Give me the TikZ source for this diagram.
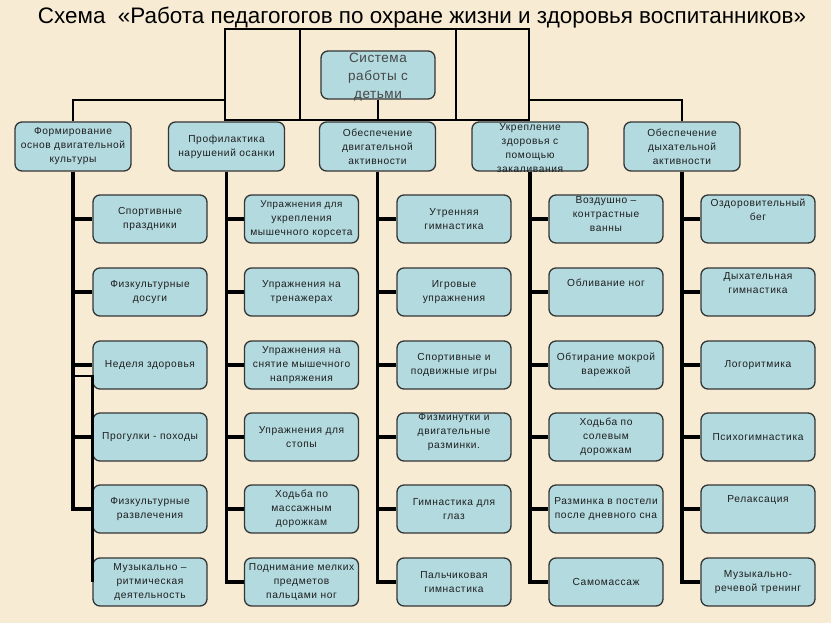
\documentclass[tikz,border=0pt]{standalone}
\usepackage{graphicx}
\usepackage{fontspec}
\setmainfont{Liberation Sans}
\newfontfamily\boxfont[LetterSpace=6]{Liberation Sans}
\newfontfamily\sysfont[LetterSpace=4]{Liberation Sans}
\definecolor{bgc}{HTML}{F7ECD3}
\definecolor{boxc}{HTML}{B3DADF}
\definecolor{edgec}{HTML}{353535}
\definecolor{txtc}{HTML}{1E1E1E}
\definecolor{systxt}{HTML}{474747}
\tikzset{
  box/.style={rectangle, rounded corners=7pt, draw=edgec, line width=1.3pt, fill=boxc,
    minimum width=114pt, minimum height=48pt, inner sep=0pt, align=center, text=txtc,
    font=\boxfont\fontsize{10.2}{14}\selectfont},
  headbox/.style={box, minimum width=116pt, minimum height=49pt},
  plaintxt/.style={align=center, inner sep=0pt, text=txtc, font=\boxfont\fontsize{10.2}{14}\selectfont},
  frame/.style={line width=2.5pt, draw=black},
  trunk/.style={line width=3.5pt, draw=black},
  branch/.style={line width=3.2pt, draw=black},
  thinbranch/.style={line width=2.4pt, draw=black},
}
\begin{document}
\begin{tikzpicture}[x=1pt,y=-1pt]
\fill[bgc] (0,0) rectangle (831,623);
\useasboundingbox (0,0) rectangle (831,623);

% title
\node[inner sep=0pt, font=\fontsize{19}{22}\selectfont] (title) at (422,18)
  {\resizebox{768pt}{!}{Схема\ \ «Работа педагогогов по охране жизни и здоровья воспитанников»}};

% top frame
\coordinate (tl) at (225,29);
\coordinate (tr) at (529,29);
\coordinate (ta) at (300,29);
\coordinate (tb) at (456,29);
\coordinate (bl) at (225,120);
\coordinate (br) at (529,120);
\coordinate (ba) at (300,120);
\coordinate (bb) at (456,120);
\coordinate (ml) at (225,100);
\coordinate (mr) at (529,100);

% system box
\node[box] (sys) at (378,75) {};
\node[align=center, inner sep=0pt, text=systxt, font=\sysfont\fontsize{13.5}{18}\selectfont] (systext) at (378,77)
  {Система\\работы с\\детьми};

% level 2
\node[headbox] (n1) at (73,146.5) {Формирование\\основ двигательной\\культуры};
\node[headbox] (n2) at (226.5,146.5) {Профилактика\\нарушений осанки};
\node[headbox] (n3) at (377.5,146.5) {Обеспечение\\двигательной\\активности};
\node[headbox] (n4) at (530,146.5) {};
\node[plaintxt] (n4text) at (530,148) {Укрепление\\здоровья с\\помощью\\закаливания};
\node[headbox] (n5) at (682,146.5) {Обеспечение\\дыхательной\\активности};

% frame lines
\draw[frame] (bl) -- (tl) -- (tr) -- (br) -- cycle;
\draw[frame] (ta) -- (ba);
\draw[frame] (tb) -- (bb);
\draw[frame] (sys.south) -- (sys.south |- bl);
\draw[frame] (n1.north) |- (ml);
\draw[frame] (n5.north) |- (mr);

% column 1
\node[box] (b11) at (150,219) {Спортивные\\праздники};
\node[box] (b12) at (150,292) {Физкультурные\\досуги};
\node[box] (b13) at (150,365) {Неделя здоровья};
\node[box] (b14) at (150,437) {Прогулки - походы};
\node[box] (b15) at (150,509) {Физкультурные\\развлечения};
\node[box] (b16) at (150,582) {Музыкально –\\ритмическая\\деятельность};
% column 2
\node[box] (b21) at (301.5,219) {\fontsize{9.8}{12.5}\selectfont Упражнения для\\укрепления\\мышечного корсета};
\node[box] (b22) at (301.5,292) {Упражнения на\\тренажерах};
\node[box] (b23) at (301.5,365) {Упражнения на\\снятие мышечного\\напряжения};
\node[box] (b24) at (301.5,437) {Упражнения для\\стопы};
\node[box] (b25) at (301.5,509) {Ходьба по\\массажным\\дорожкам};
\node[box] (b26) at (301.5,582) {Поднимание мелких\\предметов\\пальцами ног};
% column 3
\node[box] (b31) at (454,219) {Утренняя\\гимнастика};
\node[box] (b32) at (454,292) {Игровые\\упражнения};
\node[box] (b33) at (454,365) {Спортивные и\\подвижные игры};
\node[box] (b34) at (454,437) {};
\node[plaintxt] (b34text) at (454,432) {Физминутки и\\двигательные\\разминки.};
\node[box] (b35) at (454,509) {Гимнастика для\\глаз};
\node[box] (b36) at (454,582) {Пальчиковая\\гимнастика};
% column 4
\node[box] (b41) at (606,219) {};
\node[plaintxt] (b41text) at (606,214) {Воздушно –\\контрастные\\ванны};
\node[box] (b42) at (606,292) {Обливание ног\\[4pt]};
\node[box] (b43) at (606,365) {Обтирание мокрой\\варежкой};
\node[box] (b44) at (606,437) {Ходьба по\\солевым\\дорожкам};
\node[box] (b45) at (606,509) {Разминка в постели\\после дневного сна};
\node[box] (b46) at (606,582) {Самомассаж};
% column 5
\node[box] (b51) at (758,219) {Оздоровительный\\бег\\[4pt]};
\node[box] (b52) at (758,292) {Дыхательная\\гимнастика\\[4pt]};
\node[box] (b53) at (758,365) {Логоритмика};
\node[box] (b54) at (758,437) {Психогимнастика};
\node[box] (b55) at (758,509) {Релаксация\\[6pt]};
\node[box] (b56) at (758,582) {Музыкально-\\речевой тренинг};

% connectors column 1
\draw[trunk] (n1.south) |- (b15.west);
\foreach \r in {1,2,3,4} {\draw[branch] (n1.south |- b1\r.west) -- (b1\r.west);}
\coordinate (x1) at (73,376);
\draw[thinbranch] (x1) -| (b16.west);
% columns 2..5
\foreach \c in {2,3,4,5} {
  \draw[trunk] (n\c.south) |- (b\c6.west);
  \foreach \r in {1,2,3,4,5} {\draw[branch] (n\c.south |- b\c\r.west) -- (b\c\r.west);}
}
\end{tikzpicture}
\end{document}
